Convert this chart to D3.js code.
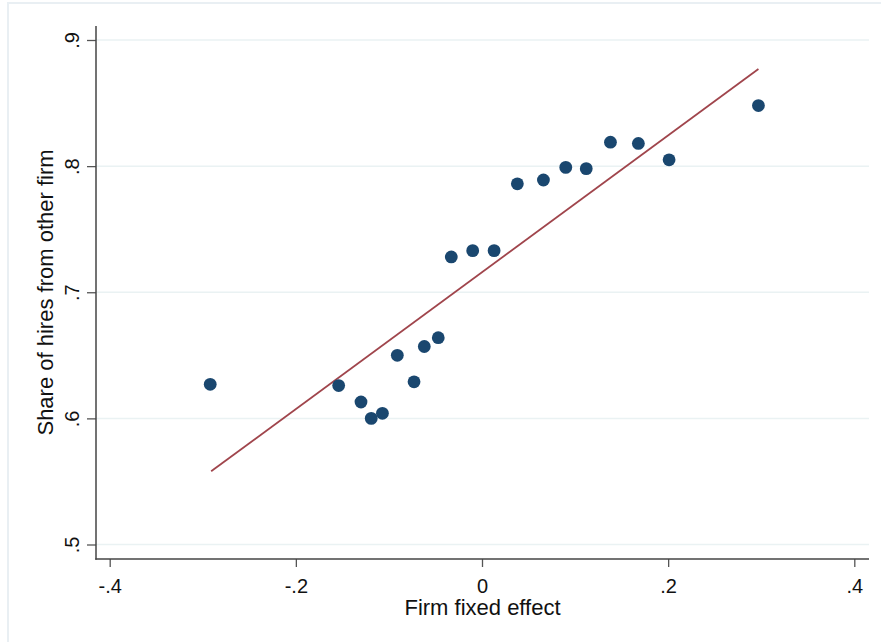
<!DOCTYPE html>
<html>
<head>
<meta charset="utf-8">
<script src="https://cdn.jsdelivr.net/npm/d3@7/dist/d3.min.js"></script>
<style>
  html, body { margin: 0; padding: 0; background: #fff; }
  svg { display: block; font-family: "Liberation Sans", Arial, sans-serif; }
</style>
</head>
<body>
<svg id="chart" width="881" height="642"></svg>
<script>
// Binned scatter: firm fixed effect vs share of hires from other firm
const firmEffect = [-0.292, -0.154, -0.130, -0.119, -0.107, -0.091, -0.073, -0.062, -0.047, -0.033,
                    -0.010, 0.013, 0.038, 0.066, 0.090, 0.112, 0.138, 0.168, 0.201, 0.297];
const shareOther = [0.627, 0.626, 0.613, 0.600, 0.604, 0.650, 0.629, 0.657, 0.664, 0.728,
                    0.733, 0.733, 0.786, 0.789, 0.799, 0.798, 0.819, 0.818, 0.805, 0.848];
// Fitted line endpoints
const fitX = [-0.291, 0.297];
const fitY = [0.558, 0.877];
const xTicks = [-0.4, -0.2, 0, 0.2, 0.4];
const xTickLabels = ["-.4", "-.2", "0", ".2", ".4"];
const yTicks = [0.5, 0.6, 0.7, 0.8, 0.9];
const yTickLabels = [".5", ".6", ".7", ".8", ".9"];
const xTitle = "Firm fixed effect";
const yTitle = "Share of hires from other firm";

const svg = d3.select("#chart");
const plotL = 96, plotR = 869, plotT = 26, plotB = 559;

const x = d3.scaleLinear().domain([-0.4, 0.4]).range([109.7, 854.3]);
const y = d3.scaleLinear().domain([0.5, 0.9]).range([544.5, 40]);

// outer graph region border
svg.append("rect")
  .attr("x", 8).attr("y", 3).attr("width", 900).attr("height", 700)
  .attr("fill", "none").attr("stroke", "#e9eff3").attr("stroke-width", 2);

// gridlines
svg.append("g").selectAll("line").data(yTicks).join("line")
  .attr("x1", plotL).attr("x2", plotR)
  .attr("y1", d => y(d)).attr("y2", d => y(d))
  .attr("stroke", "#eaf2f3").attr("stroke-width", 1.5);

// y axis
const yAxis = d3.axisLeft(y).tickValues(yTicks)
  .tickFormat((d, i) => yTickLabels[i]).tickSize(9).tickPadding(0);
const gy = svg.append("g").attr("transform", `translate(${plotL},0)`).call(yAxis);
gy.select(".domain").remove();
gy.selectAll(".tick line").attr("stroke", "#555").attr("stroke-width", 1.3);
gy.selectAll(".tick text")
  .attr("transform", "rotate(-90)")
  .attr("x", 0).attr("y", -17)
  .attr("dy", 0)
  .attr("text-anchor", "middle")
  .attr("fill", "#111")
  .style("font-size", "20px");
svg.append("line")
  .attr("x1", plotL).attr("x2", plotL).attr("y1", plotT).attr("y2", plotB + 0.7)
  .attr("stroke", "#444").attr("stroke-width", 1.5);

// x axis
const xAxis = d3.axisBottom(x).tickValues(xTicks)
  .tickFormat((d, i) => xTickLabels[i]).tickSize(8).tickPadding(4);
const gx = svg.append("g").attr("transform", `translate(0,${plotB})`).call(xAxis);
gx.select(".domain").remove();
gx.selectAll(".tick line").attr("stroke", "#555").attr("stroke-width", 1.3);
gx.selectAll(".tick text").attr("fill", "#111").style("font-size", "20px")
  .attr("dy", 0).attr("y", 34);
svg.append("line")
  .attr("x1", plotL - 0.7).attr("x2", plotR).attr("y1", plotB).attr("y2", plotB)
  .attr("stroke", "#444").attr("stroke-width", 1.5);

// fitted line
svg.append("line")
  .attr("x1", x(fitX[0])).attr("y1", y(fitY[0]))
  .attr("x2", x(fitX[1])).attr("y2", y(fitY[1]))
  .attr("stroke", "#a0454c").attr("stroke-width", 1.8);

// points
svg.append("g").selectAll("circle").data(firmEffect).join("circle")
  .attr("cx", d => x(d))
  .attr("cy", (d, i) => y(shareOther[i]))
  .attr("r", 6.4)
  .attr("fill", "#1a476f");

// titles
svg.append("text")
  .attr("x", (plotL + plotR) / 2).attr("y", 615)
  .attr("text-anchor", "middle").attr("fill", "#111")
  .style("font-size", "22px").text(xTitle);
svg.append("text")
  .attr("transform", `translate(53,${(plotT + plotB) / 2}) rotate(-90)`)
  .attr("text-anchor", "middle").attr("fill", "#111")
  .style("font-size", "22px").text(yTitle);
</script>
</body>
</html>
